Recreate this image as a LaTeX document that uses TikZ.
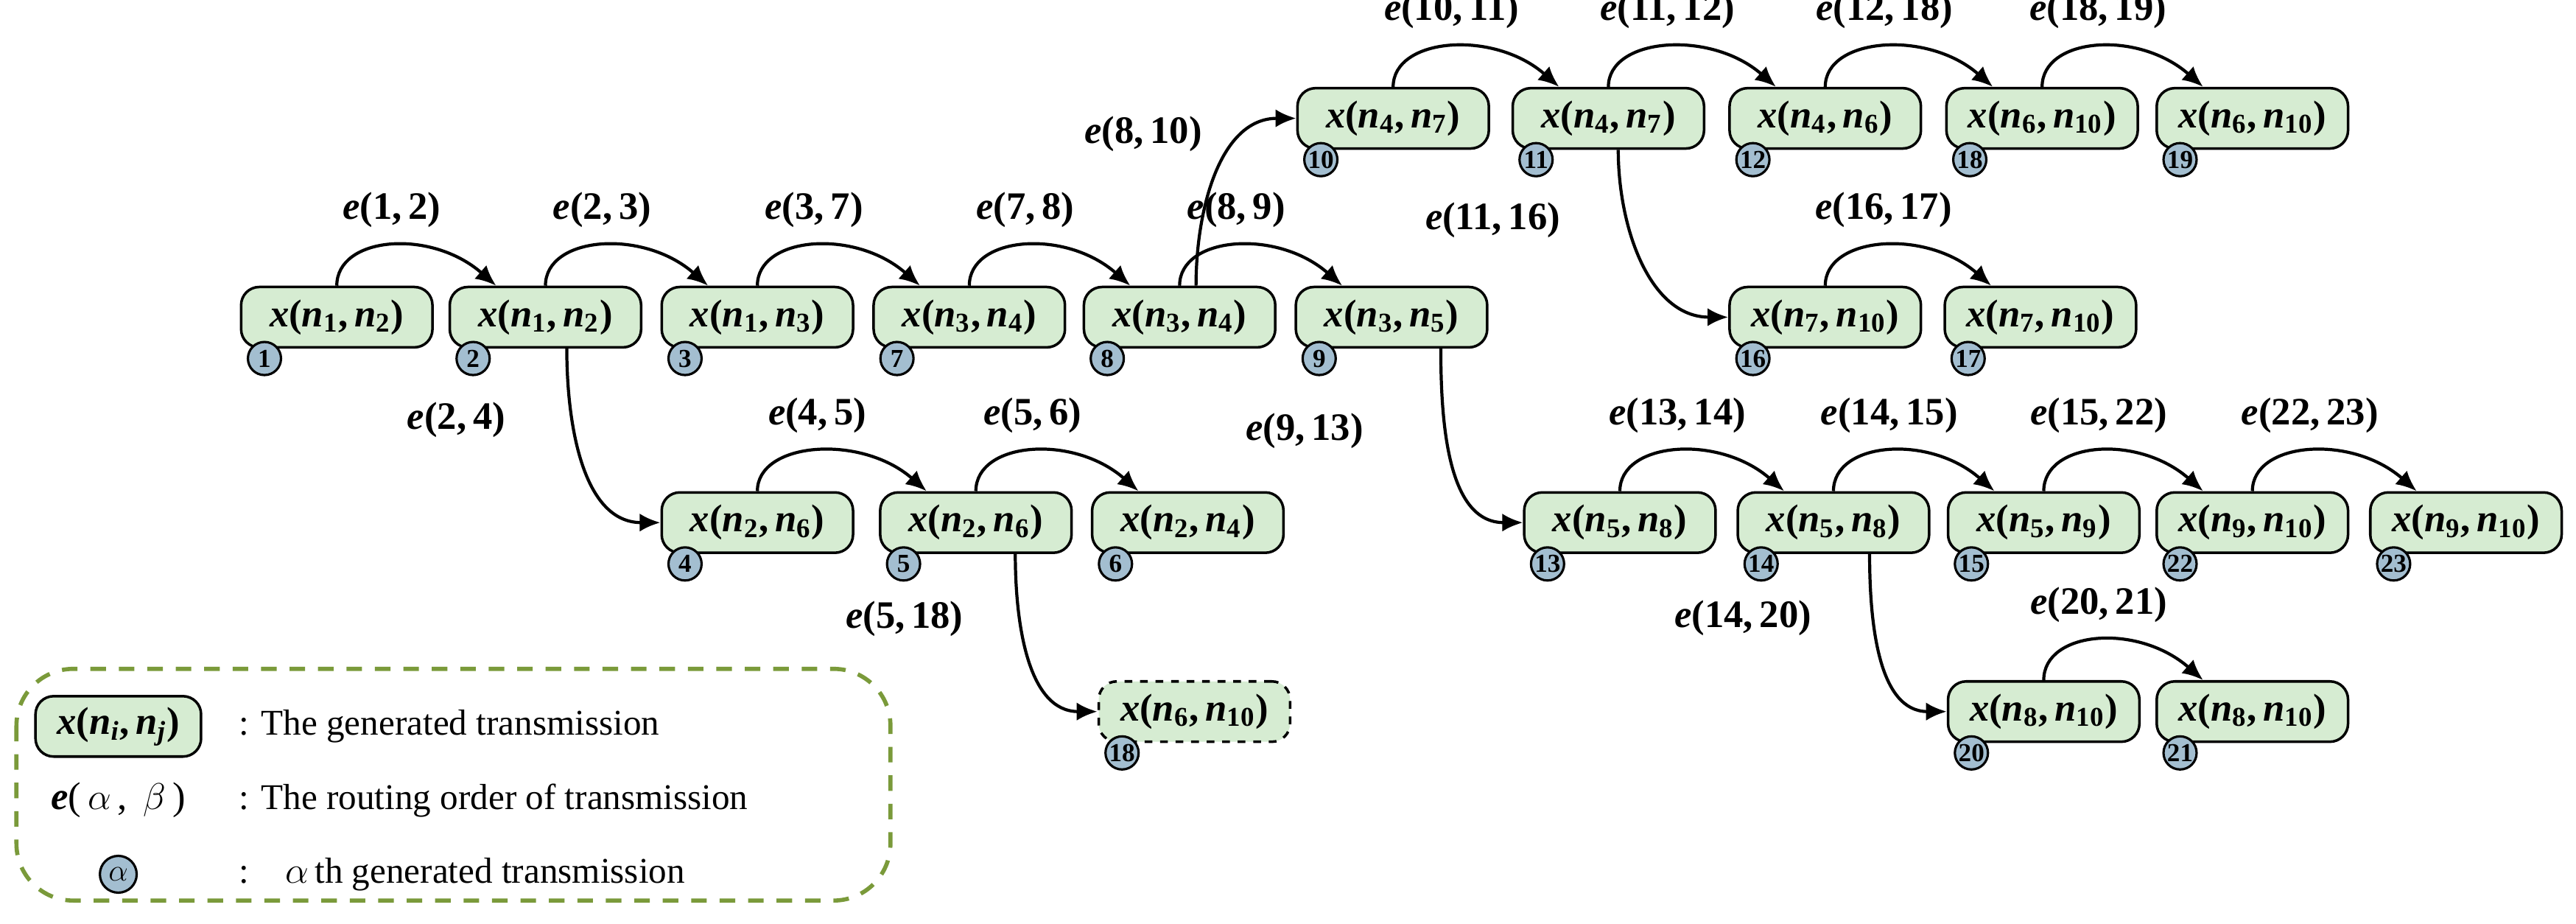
\documentclass[tikz,border=0pt]{standalone}
\usepackage{fontspec}
\setmainfont{Liberation Serif}
\usetikzlibrary{arrows.meta,calc}
\definecolor{boxg}{HTML}{D6ECD2}
\definecolor{cblue}{HTML}{A3BED0}
\definecolor{olivegr}{HTML}{7A9A3A}
\newcommand\bi[1]{\textbf{\textit{#1}}}
\newcommand\xn[2]{\bi{x}(\bi{n}\textsubscript{#1},\,\bi{n}\textsubscript{#2})}
\newcommand\ee[2]{\bi{e}(#1,\,#2)}
\newcommand\bxx[5]{\node[box,#5] (n#1) at (#2,#3) {#4};
  \node[num] (c#1) at ($(n#1.south west)+(15,6)$) {#1};}
\begin{document}
\begin{tikzpicture}[x=0.02232cm,y=-0.02232cm,
 box/.style={draw,line width=1pt,fill=boxg,rounded corners=7pt,minimum width=2.6cm,minimum height=0.82cm,inner sep=2pt,font=\fontsize{15}{17}\selectfont\bfseries},
 num/.style={draw,line width=0.9pt,fill=cblue,circle,inner sep=0pt,minimum size=0.45cm,font=\fontsize{10}{11}\selectfont\bfseries},
 lab/.style={font=\fontsize{15}{17}\selectfont\bfseries},
 arr/.style={line width=1.2pt,-{Latex[length=8pt,width=7pt]}},
 leg/.style={font=\fontsize{14}{16}\selectfont,anchor=west}]
\useasboundingbox (0,0) rectangle (1568,562);
% row A
\bxx{1}{205}{193}{\xn{1}{2}}{}
\bxx{2}{332}{193}{\xn{1}{2}}{}
\bxx{3}{461}{193}{\xn{1}{3}}{}
\bxx{7}{590}{193}{\xn{3}{4}}{}
\bxx{8}{718}{193}{\xn{3}{4}}{}
\bxx{9}{847}{193}{\xn{3}{5}}{}
% top row
\bxx{10}{848}{72}{\xn{4}{7}}{}
\bxx{11}{979}{72}{\xn{4}{7}}{}
\bxx{12}{1111}{72}{\xn{4}{6}}{}
\bxx{18}{1243}{72}{\xn{6}{10}}{}
\bxx{19}{1371}{72}{\xn{6}{10}}{}
% row 16
\bxx{16}{1111}{193}{\xn{7}{10}}{}
\bxx{17}{1242}{193}{\xn{7}{10}}{}
% row 4
\bxx{4}{461}{318}{\xn{2}{6}}{}
\bxx{5}{594}{318}{\xn{2}{6}}{}
\bxx{6}{723}{318}{\xn{2}{4}}{}
% row 13
\bxx{13}{986}{318}{\xn{5}{8}}{}
\bxx{14}{1116}{318}{\xn{5}{8}}{}
\bxx{15}{1244}{318}{\xn{5}{9}}{}
\bxx{22}{1371}{318}{\xn{9}{10}}{}
\bxx{23}{1501}{318}{\xn{9}{10}}{}
% row 20
\node[box,dashed] (nd18) at (727,433) {\xn{6}{10}};
\node[num] (cd18) at ($(nd18.south west)+(15,6)$) {18};
\bxx{20}{1244}{433}{\xn{8}{10}}{}
\bxx{21}{1371}{433}{\xn{8}{10}}{}
% horizontal arcs
\foreach \a/\b/\l in {1/2/{\ee{1}{2}},2/3/{\ee{2}{3}},3/7/{\ee{3}{7}},7/8/{\ee{7}{8}},8/9/{\ee{8}{9}},
 10/11/{\ee{10}{11}},11/12/{\ee{11}{12}},12/18/{\ee{12}{18}},18/19/{\ee{18}{19}},16/17/{\ee{16}{17}},
 4/5/{\ee{4}{5}},5/6/{\ee{5}{6}},13/14/{\ee{13}{14}},14/15/{\ee{14}{15}},15/22/{\ee{15}{22}},22/23/{\ee{22}{23}},20/21/{\ee{20}{21}}}
 {\draw[arr] (n\a.north) .. controls ($(n\a.north)+(0,-30)$) and ($(n\b.north)+(-70,-35)$) .. ($(n\b.north)+(-30,0)$)
   node[lab,pos=0.5,above=3pt] {\l};}
% down/up arrows
\draw[arr] ($(n2.south)+(13,0)$) to[out=-90,in=180] node[lab,pos=0.3,left=22pt] {\ee{2}{4}} (n4.west);
\draw[arr] ($(n8.north)+(10,0)$) to[out=90,in=180] node[lab,pos=0.75,left=14pt] {\ee{8}{10}} (n10.west);
\draw[arr] ($(n9.south)+(30,0)$) to[out=-90,in=180] node[lab,pos=0.35,left=28pt] {\ee{9}{13}} (n13.west);
\draw[arr] ($(n11.south)+(6,0)$) to[out=-90,in=180] node[lab,pos=0.3,left=22pt] {\ee{11}{16}} (n16.west);
\draw[arr] ($(n5.south)+(24,0)$) to[out=-90,in=180] node[lab,pos=0.3,left=18pt] {\ee{5}{18}} (nd18.west);
\draw[arr] ($(n14.south)+(22,0)$) to[out=-90,in=180] node[lab,pos=0.3,left=20pt] {\ee{14}{20}} (n20.west);
% legend
\draw[olivegr,line width=1.6pt,dash pattern=on 6pt off 5pt,rounded corners=22pt] (10,407) rectangle (542,548);
\node[box,minimum width=2.25cm] (lg1) at (72,442) {\bi{x}(\bi{n}\textsubscript{\textit{i}},\,\bi{n}\textsubscript{\textit{j}})};
\node[leg] (lt1) at (140,442) {: The generated transmission};
\node[font=\fontsize{15}{17}\selectfont] (lg2) at (72,487) {\bi{e}(\,$\alpha$\,, \,$\beta$\,)};
\node[leg] (lt2) at (140,487) {: The routing order of transmission};
\node[num,minimum size=0.5cm,font=\fontsize{13}{14}\selectfont] (lg3) at (72,532) {$\alpha$};
\node[leg] (lt3) at (140,532) {:\quad$\alpha$\,th generated transmission};
\end{tikzpicture}
\end{document}
